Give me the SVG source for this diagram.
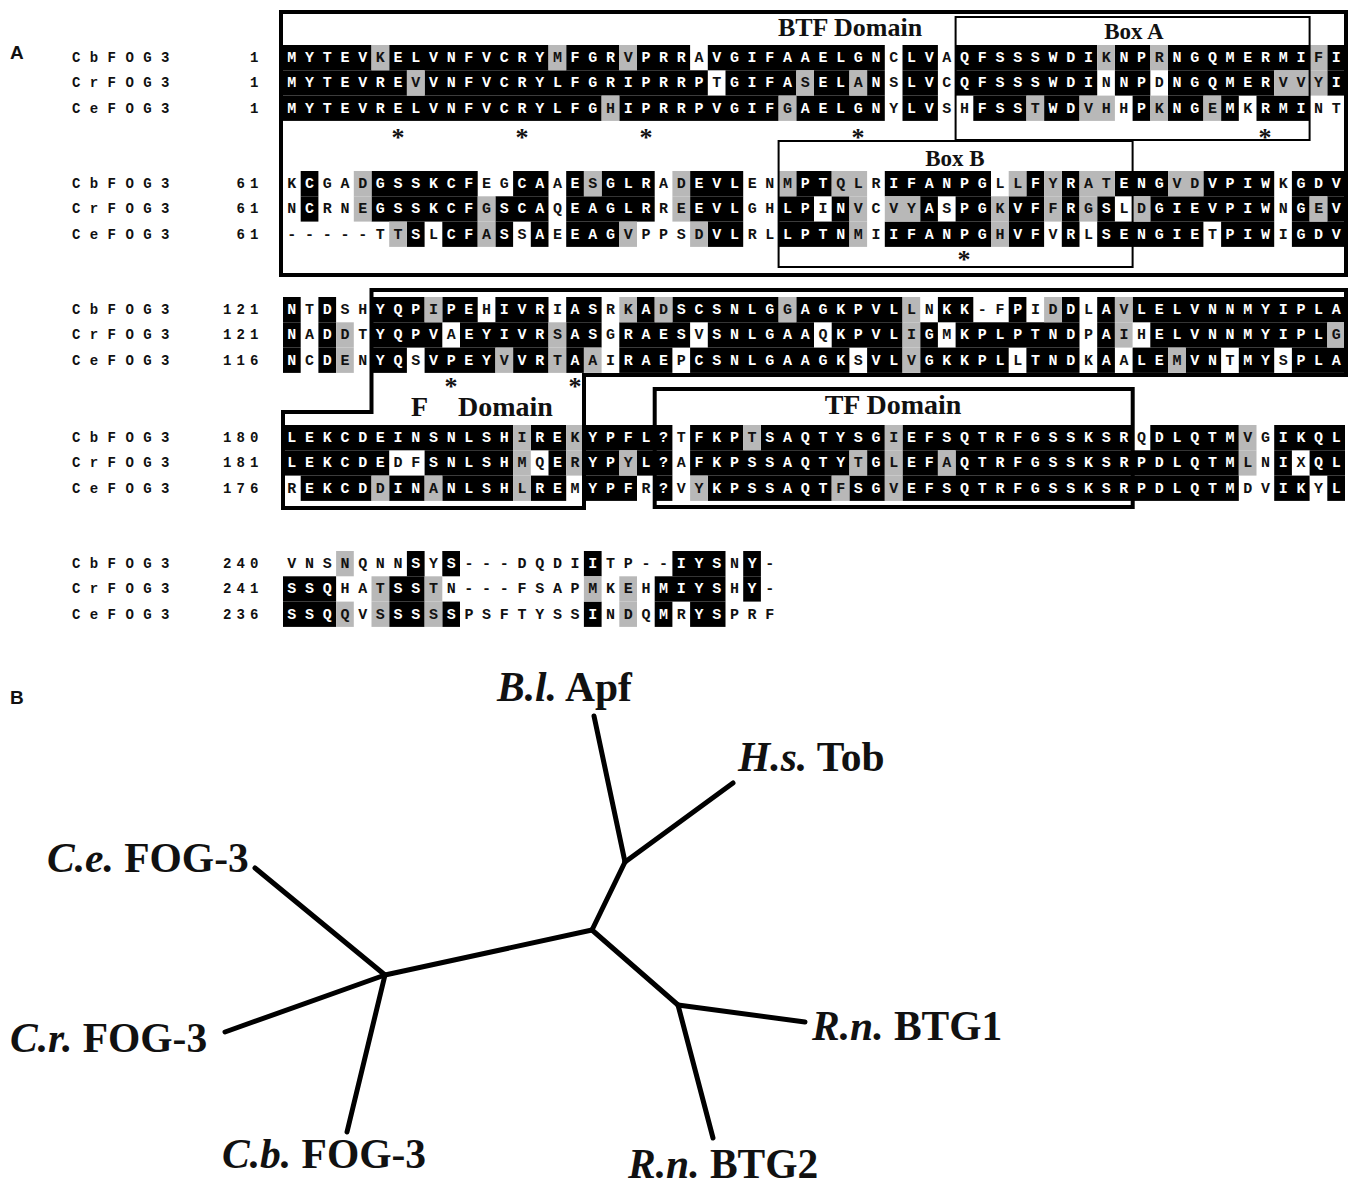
<svg xmlns="http://www.w3.org/2000/svg" width="1357" height="1188" viewBox="0 0 1357 1188">
<style>
.b{fill:#000}
.g{fill:#b8b8b8}
.seq{font-family:"Liberation Mono",monospace;font-weight:bold;font-size:15px;letter-spacing:8.7px}
.w{fill:#fff}
.k{fill:#111}
.nm{font-family:"Liberation Mono",monospace;font-weight:bold;font-size:14px;letter-spacing:9.4px;fill:#111}
.num{font-family:"Liberation Mono",monospace;font-weight:bold;font-size:14px;letter-spacing:5.1px;fill:#111}
.ast{font-family:"Liberation Serif",serif;font-weight:bold;font-size:26px;text-anchor:middle;fill:#111}
.dom{font-family:"Liberation Serif",serif;font-weight:bold;font-size:26px;fill:#111}
.dom2{font-family:"Liberation Serif",serif;font-weight:bold;font-size:28px;fill:#111}
.box{font-family:"Liberation Serif",serif;font-weight:bold;font-size:23px;fill:#111}
.thick{fill:none;stroke:#000;stroke-width:4}
.thin{fill:none;stroke:#000;stroke-width:2}
.pl{font-family:"Liberation Sans",sans-serif;font-weight:bold;font-size:19px;fill:#111}
.lab{font-family:"Liberation Serif",serif;font-weight:bold;font-size:41.5px;fill:#111}
.it{font-style:italic}
.edge{stroke:#000;stroke-width:5;stroke-linecap:round;fill:none}
</style>
<rect width="1357" height="1188" fill="#fff"/>
<text class="pl" x="10" y="59">A</text>
<text class="pl" x="10" y="704">B</text>

<!-- Block 1 -->
<g id="block1">
<g transform="translate(283,45) scale(17.7,1)">
<g class="b">
<rect x="0" y="0" width="5" height="25.3"/><rect x="6" y="0" width="9" height="25.3"/><rect x="16" y="0" width="3" height="25.3"/><rect x="20" y="0" width="3" height="25.3"/><rect x="24" y="0" width="10" height="25.3"/><rect x="35" y="0" width="2" height="25.3"/><rect x="38" y="0" width="8" height="25.3"/><rect x="47" y="0" width="2" height="25.3"/><rect x="50" y="0" width="8" height="25.3"/><rect x="59" y="0" width="1" height="25.3"/>
<rect x="0" y="25.3" width="7" height="25.3"/><rect x="8" y="25.3" width="16" height="25.3"/><rect x="25" y="25.3" width="4" height="25.3"/><rect x="30" y="25.3" width="2" height="25.3"/><rect x="33" y="25.3" width="1" height="25.3"/><rect x="35" y="25.3" width="2" height="25.3"/><rect x="38" y="25.3" width="8" height="25.3"/><rect x="47" y="25.3" width="2" height="25.3"/><rect x="50" y="25.3" width="6" height="25.3"/><rect x="59" y="25.3" width="1" height="25.3"/>
<rect x="0" y="50.6" width="18" height="25.3"/><rect x="19" y="50.6" width="9" height="25.3"/><rect x="29" y="50.6" width="5" height="25.3"/><rect x="35" y="50.6" width="2" height="25.3"/><rect x="39" y="50.6" width="3" height="25.3"/><rect x="43" y="50.6" width="2" height="25.3"/><rect x="48" y="50.6" width="1" height="25.3"/><rect x="50" y="50.6" width="2" height="25.3"/><rect x="53" y="50.6" width="1" height="25.3"/><rect x="55" y="50.6" width="3" height="25.3"/>
</g>
<g class="g">
<rect x="5" y="0" width="1" height="25.3"/><rect x="15" y="0" width="1" height="25.3"/><rect x="19" y="0" width="1" height="25.3"/><rect x="46" y="0" width="1" height="25.3"/><rect x="49" y="0" width="1" height="25.3"/><rect x="58" y="0" width="1" height="25.3"/>
<rect x="7" y="25.3" width="1" height="25.3"/><rect x="29" y="25.3" width="1" height="25.3"/><rect x="32" y="25.3" width="1" height="25.3"/><rect x="56" y="25.3" width="3" height="25.3"/>
<rect x="18" y="50.6" width="1" height="25.3"/><rect x="28" y="50.6" width="1" height="25.3"/><rect x="42" y="50.6" width="1" height="25.3"/><rect x="45" y="50.6" width="2" height="25.3"/><rect x="49" y="50.6" width="1" height="25.3"/><rect x="52" y="50.6" width="1" height="25.3"/>
</g>
</g>
<text class="nm" x="72" y="62">CbFOG3</text><text class="nm" x="72" y="87.3">CrFOG3</text><text class="nm" x="72" y="112.6">CeFOG3</text>
<text class="num" x="250" y="62">1</text><text class="num" x="250" y="87.3">1</text><text class="num" x="250" y="112.6">1</text>
<text class="seq" x="287.35" y="62"><tspan class="w">MYTEV</tspan><tspan class="k">K</tspan><tspan class="w">ELVNFVCRY</tspan><tspan class="k">M</tspan><tspan class="w">FGR</tspan><tspan class="k">V</tspan><tspan class="w">PRR</tspan><tspan class="k">A</tspan><tspan class="w">VGIFAAELGN</tspan><tspan class="k">C</tspan><tspan class="w">LV</tspan><tspan class="k">A</tspan><tspan class="w">QFSSSWDI</tspan><tspan class="k">K</tspan><tspan class="w">NP</tspan><tspan class="k">R</tspan><tspan class="w">NGQMERMI</tspan><tspan class="k">F</tspan><tspan class="w">I</tspan></text>
<text class="seq" x="287.35" y="87.3"><tspan class="w">MYTEVRE</tspan><tspan class="k">V</tspan><tspan class="w">VNFVCRYLFGRIPRRP</tspan><tspan class="k">T</tspan><tspan class="w">GIFA</tspan><tspan class="k">S</tspan><tspan class="w">EL</tspan><tspan class="k">A</tspan><tspan class="w">N</tspan><tspan class="k">S</tspan><tspan class="w">LV</tspan><tspan class="k">C</tspan><tspan class="w">QFSSSWDI</tspan><tspan class="k">N</tspan><tspan class="w">NP</tspan><tspan class="k">D</tspan><tspan class="w">NGQMER</tspan><tspan class="k">VVY</tspan><tspan class="w">I</tspan></text>
<text class="seq" x="287.35" y="112.6"><tspan class="w">MYTEVRELVNFVCRYLFG</tspan><tspan class="k">H</tspan><tspan class="w">IPRRPVGIF</tspan><tspan class="k">G</tspan><tspan class="w">AELGN</tspan><tspan class="k">Y</tspan><tspan class="w">LV</tspan><tspan class="k">SH</tspan><tspan class="w">FSS</tspan><tspan class="k">T</tspan><tspan class="w">WD</tspan><tspan class="k">VHH</tspan><tspan class="w">P</tspan><tspan class="k">K</tspan><tspan class="w">NG</tspan><tspan class="k">E</tspan><tspan class="w">M</tspan><tspan class="k">K</tspan><tspan class="w">RMI</tspan><tspan class="k">NT</tspan></text>
<text class="ast" x="398" y="146">*</text><text class="ast" x="522" y="146">*</text><text class="ast" x="646" y="146">*</text><text class="ast" x="858" y="146">*</text><text class="ast" x="1265" y="146">*</text>
</g>

<!-- Block 2 -->
<g id="block2">
<g transform="translate(283,171) scale(17.7,1)">
<g class="b">
<rect x="1" y="0" width="1" height="25.3"/><rect x="5" y="0" width="6" height="25.3"/><rect x="13" y="0" width="2" height="25.3"/><rect x="16" y="0" width="1" height="25.3"/><rect x="18" y="0" width="3" height="25.3"/><rect x="23" y="0" width="3" height="25.3"/><rect x="29" y="0" width="2" height="25.3"/><rect x="34" y="0" width="6" height="25.3"/><rect x="42" y="0" width="1" height="25.3"/><rect x="44" y="0" width="1" height="25.3"/><rect x="47" y="0" width="3" height="25.3"/><rect x="52" y="0" width="4" height="25.3"/><rect x="57" y="0" width="3" height="25.3"/>
<rect x="1" y="25.3" width="1" height="25.3"/><rect x="5" y="25.3" width="6" height="25.3"/><rect x="12" y="25.3" width="3" height="25.3"/><rect x="16" y="25.3" width="5" height="25.3"/><rect x="23" y="25.3" width="3" height="25.3"/><rect x="28" y="25.3" width="2" height="25.3"/><rect x="31" y="25.3" width="1" height="25.3"/><rect x="36" y="25.3" width="1" height="25.3"/><rect x="38" y="25.3" width="2" height="25.3"/><rect x="41" y="25.3" width="2" height="25.3"/><rect x="44" y="25.3" width="1" height="25.3"/><rect x="46" y="25.3" width="1" height="25.3"/><rect x="49" y="25.3" width="7" height="25.3"/><rect x="57" y="25.3" width="1" height="25.3"/><rect x="59" y="25.3" width="1" height="25.3"/>
<rect x="7" y="50.6" width="1" height="25.3"/><rect x="9" y="50.6" width="2" height="25.3"/><rect x="12" y="50.6" width="1" height="25.3"/><rect x="14" y="50.6" width="1" height="25.3"/><rect x="16" y="50.6" width="3" height="25.3"/><rect x="24" y="50.6" width="2" height="25.3"/><rect x="28" y="50.6" width="4" height="25.3"/><rect x="34" y="50.6" width="6" height="25.3"/><rect x="41" y="50.6" width="2" height="25.3"/><rect x="44" y="50.6" width="1" height="25.3"/><rect x="46" y="50.6" width="6" height="25.3"/><rect x="53" y="50.6" width="3" height="25.3"/><rect x="57" y="50.6" width="3" height="25.3"/>
</g>
<g class="g">
<rect x="4" y="0" width="1" height="25.3"/><rect x="17" y="0" width="1" height="25.3"/><rect x="22" y="0" width="1" height="25.3"/><rect x="28" y="0" width="1" height="25.3"/><rect x="31" y="0" width="2" height="25.3"/><rect x="41" y="0" width="1" height="25.3"/><rect x="43" y="0" width="1" height="25.3"/><rect x="45" y="0" width="2" height="25.3"/><rect x="50" y="0" width="2" height="25.3"/>
<rect x="4" y="25.3" width="1" height="25.3"/><rect x="11" y="25.3" width="1" height="25.3"/><rect x="22" y="25.3" width="1" height="25.3"/><rect x="32" y="25.3" width="1" height="25.3"/><rect x="34" y="25.3" width="2" height="25.3"/><rect x="40" y="25.3" width="1" height="25.3"/><rect x="43" y="25.3" width="1" height="25.3"/><rect x="45" y="25.3" width="1" height="25.3"/><rect x="48" y="25.3" width="1" height="25.3"/><rect x="58" y="25.3" width="1" height="25.3"/>
<rect x="6" y="50.6" width="1" height="25.3"/><rect x="11" y="50.6" width="1" height="25.3"/><rect x="19" y="50.6" width="1" height="25.3"/><rect x="23" y="50.6" width="1" height="25.3"/><rect x="32" y="50.6" width="1" height="25.3"/><rect x="40" y="50.6" width="1" height="25.3"/>
</g>
</g>
<text class="nm" x="72" y="188">CbFOG3</text><text class="nm" x="72" y="213.3">CrFOG3</text><text class="nm" x="72" y="238.6">CeFOG3</text>
<text class="num" x="236.5" y="188">61</text><text class="num" x="236.5" y="213.3">61</text><text class="num" x="236.5" y="238.6">61</text>
<text class="seq" x="287.35" y="188"><tspan class="k">K</tspan><tspan class="w">C</tspan><tspan class="k">GAD</tspan><tspan class="w">GSSKCF</tspan><tspan class="k">EG</tspan><tspan class="w">CA</tspan><tspan class="k">A</tspan><tspan class="w">E</tspan><tspan class="k">S</tspan><tspan class="w">GLR</tspan><tspan class="k">AD</tspan><tspan class="w">EVL</tspan><tspan class="k">ENM</tspan><tspan class="w">PT</tspan><tspan class="k">QLR</tspan><tspan class="w">IFANPG</tspan><tspan class="k">LL</tspan><tspan class="w">F</tspan><tspan class="k">Y</tspan><tspan class="w">R</tspan><tspan class="k">AT</tspan><tspan class="w">ENG</tspan><tspan class="k">VD</tspan><tspan class="w">VPIW</tspan><tspan class="k">K</tspan><tspan class="w">GDV</tspan></text>
<text class="seq" x="287.35" y="213.3"><tspan class="k">N</tspan><tspan class="w">C</tspan><tspan class="k">RNE</tspan><tspan class="w">GSSKCF</tspan><tspan class="k">G</tspan><tspan class="w">SCA</tspan><tspan class="k">Q</tspan><tspan class="w">EAGLR</tspan><tspan class="k">RE</tspan><tspan class="w">EVL</tspan><tspan class="k">GH</tspan><tspan class="w">LP</tspan><tspan class="k">I</tspan><tspan class="w">N</tspan><tspan class="k">VCVY</tspan><tspan class="w">A</tspan><tspan class="k">S</tspan><tspan class="w">PG</tspan><tspan class="k">K</tspan><tspan class="w">VF</tspan><tspan class="k">F</tspan><tspan class="w">R</tspan><tspan class="k">G</tspan><tspan class="w">S</tspan><tspan class="k">LD</tspan><tspan class="w">GIEVPIW</tspan><tspan class="k">N</tspan><tspan class="w">G</tspan><tspan class="k">E</tspan><tspan class="w">V</tspan></text>
<text class="seq" x="287.35" y="238.6"><tspan class="k">-----TT</tspan><tspan class="w">S</tspan><tspan class="k">L</tspan><tspan class="w">CF</tspan><tspan class="k">A</tspan><tspan class="w">S</tspan><tspan class="k">S</tspan><tspan class="w">A</tspan><tspan class="k">E</tspan><tspan class="w">EAG</tspan><tspan class="k">VPPSD</tspan><tspan class="w">VL</tspan><tspan class="k">RL</tspan><tspan class="w">LPTN</tspan><tspan class="k">MI</tspan><tspan class="w">IFANPG</tspan><tspan class="k">H</tspan><tspan class="w">VF</tspan><tspan class="k">V</tspan><tspan class="w">R</tspan><tspan class="k">L</tspan><tspan class="w">SENGIE</tspan><tspan class="k">T</tspan><tspan class="w">PIW</tspan><tspan class="k">I</tspan><tspan class="w">GDV</tspan></text>
<text class="ast" x="964" y="268">*</text>
</g>

<!-- Block 3 -->
<g id="block3">
<g transform="translate(283,297) scale(17.7,1)">
<g class="b">
<rect x="0" y="0" width="1" height="25.3"/><rect x="2" y="0" width="1" height="25.3"/><rect x="5" y="0" width="3" height="25.3"/><rect x="9" y="0" width="2" height="25.3"/><rect x="12" y="0" width="3" height="25.3"/><rect x="16" y="0" width="2" height="25.3"/><rect x="20" y="0" width="1" height="25.3"/><rect x="22" y="0" width="6" height="25.3"/><rect x="29" y="0" width="6" height="25.3"/><rect x="37" y="0" width="2" height="25.3"/><rect x="41" y="0" width="1" height="25.3"/><rect x="44" y="0" width="1" height="25.3"/><rect x="46" y="0" width="1" height="25.3"/><rect x="48" y="0" width="12" height="25.3"/>
<rect x="0" y="25.3" width="1" height="25.3"/><rect x="2" y="25.3" width="1" height="25.3"/><rect x="5" y="25.3" width="4" height="25.3"/><rect x="10" y="25.3" width="5" height="25.3"/><rect x="16" y="25.3" width="2" height="25.3"/><rect x="19" y="25.3" width="4" height="25.3"/><rect x="24" y="25.3" width="6" height="25.3"/><rect x="31" y="25.3" width="4" height="25.3"/><rect x="36" y="25.3" width="1" height="25.3"/><rect x="38" y="25.3" width="7" height="25.3"/><rect x="46" y="25.3" width="1" height="25.3"/><rect x="49" y="25.3" width="10" height="25.3"/>
<rect x="0" y="50.6" width="1" height="25.3"/><rect x="2" y="50.6" width="1" height="25.3"/><rect x="5" y="50.6" width="2" height="25.3"/><rect x="8" y="50.6" width="4" height="25.3"/><rect x="13" y="50.6" width="2" height="25.3"/><rect x="16" y="50.6" width="1" height="25.3"/><rect x="19" y="50.6" width="3" height="25.3"/><rect x="23" y="50.6" width="9" height="25.3"/><rect x="33" y="50.6" width="2" height="25.3"/><rect x="36" y="50.6" width="5" height="25.3"/><rect x="42" y="50.6" width="3" height="25.3"/><rect x="46" y="50.6" width="1" height="25.3"/><rect x="48" y="50.6" width="2" height="25.3"/><rect x="51" y="50.6" width="2" height="25.3"/><rect x="54" y="50.6" width="2" height="25.3"/><rect x="57" y="50.6" width="3" height="25.3"/>
</g>
<g class="g">
<rect x="8" y="0" width="1" height="25.3"/><rect x="19" y="0" width="1" height="25.3"/><rect x="21" y="0" width="1" height="25.3"/><rect x="28" y="0" width="1" height="25.3"/><rect x="35" y="0" width="1" height="25.3"/><rect x="43" y="0" width="1" height="25.3"/><rect x="47" y="0" width="1" height="25.3"/>
<rect x="3" y="25.3" width="1" height="25.3"/><rect x="15" y="25.3" width="1" height="25.3"/><rect x="35" y="25.3" width="1" height="25.3"/><rect x="47" y="25.3" width="1" height="25.3"/><rect x="59" y="25.3" width="1" height="25.3"/>
<rect x="3" y="50.6" width="1" height="25.3"/><rect x="12" y="50.6" width="1" height="25.3"/><rect x="15" y="50.6" width="1" height="25.3"/><rect x="17" y="50.6" width="1" height="25.3"/><rect x="35" y="50.6" width="1" height="25.3"/><rect x="50" y="50.6" width="1" height="25.3"/>
</g>
</g>
<text class="nm" x="72" y="314">CbFOG3</text><text class="nm" x="72" y="339.3">CrFOG3</text><text class="nm" x="72" y="364.6">CeFOG3</text>
<text class="num" x="223" y="314">121</text><text class="num" x="223" y="339.3">121</text><text class="num" x="223" y="364.6">116</text>
<text class="seq" x="287.35" y="314"><tspan class="w">N</tspan><tspan class="k">T</tspan><tspan class="w">D</tspan><tspan class="k">SH</tspan><tspan class="w">YQP</tspan><tspan class="k">I</tspan><tspan class="w">PE</tspan><tspan class="k">H</tspan><tspan class="w">IVR</tspan><tspan class="k">I</tspan><tspan class="w">AS</tspan><tspan class="k">RK</tspan><tspan class="w">A</tspan><tspan class="k">D</tspan><tspan class="w">SCSNLG</tspan><tspan class="k">G</tspan><tspan class="w">AGKPVL</tspan><tspan class="k">LN</tspan><tspan class="w">KK</tspan><tspan class="k">-F</tspan><tspan class="w">P</tspan><tspan class="k">ID</tspan><tspan class="w">D</tspan><tspan class="k">L</tspan><tspan class="w">A</tspan><tspan class="k">V</tspan><tspan class="w">LELVNNMYIPLA</tspan></text>
<text class="seq" x="287.35" y="339.3"><tspan class="w">N</tspan><tspan class="k">A</tspan><tspan class="w">D</tspan><tspan class="k">DT</tspan><tspan class="w">YQPV</tspan><tspan class="k">A</tspan><tspan class="w">EYIVR</tspan><tspan class="k">S</tspan><tspan class="w">AS</tspan><tspan class="k">G</tspan><tspan class="w">RAES</tspan><tspan class="k">V</tspan><tspan class="w">SNLGAA</tspan><tspan class="k">Q</tspan><tspan class="w">KPVL</tspan><tspan class="k">I</tspan><tspan class="w">G</tspan><tspan class="k">M</tspan><tspan class="w">KPLPTND</tspan><tspan class="k">P</tspan><tspan class="w">A</tspan><tspan class="k">IH</tspan><tspan class="w">ELVNNMYIPL</tspan><tspan class="k">G</tspan></text>
<text class="seq" x="287.35" y="364.6"><tspan class="w">N</tspan><tspan class="k">C</tspan><tspan class="w">D</tspan><tspan class="k">EN</tspan><tspan class="w">YQ</tspan><tspan class="k">S</tspan><tspan class="w">VPEY</tspan><tspan class="k">V</tspan><tspan class="w">VR</tspan><tspan class="k">T</tspan><tspan class="w">A</tspan><tspan class="k">AI</tspan><tspan class="w">RAE</tspan><tspan class="k">P</tspan><tspan class="w">CSNLGAAGK</tspan><tspan class="k">S</tspan><tspan class="w">VL</tspan><tspan class="k">V</tspan><tspan class="w">GKKPL</tspan><tspan class="k">L</tspan><tspan class="w">TND</tspan><tspan class="k">K</tspan><tspan class="w">A</tspan><tspan class="k">A</tspan><tspan class="w">LE</tspan><tspan class="k">M</tspan><tspan class="w">VN</tspan><tspan class="k">T</tspan><tspan class="w">MY</tspan><tspan class="k">S</tspan><tspan class="w">PLA</tspan></text>
<text class="ast" x="451" y="395">*</text><text class="ast" x="575" y="395">*</text>
</g>

<!-- Block 4 -->
<g id="block4">
<g transform="translate(283,425) scale(17.7,1)">
<g class="b">
<rect x="0" y="0" width="13" height="25.3"/><rect x="14" y="0" width="2" height="25.3"/><rect x="17" y="0" width="5" height="25.3"/><rect x="23" y="0" width="3" height="25.3"/><rect x="27" y="0" width="7" height="25.3"/><rect x="35" y="0" width="13" height="25.3"/><rect x="49" y="0" width="5" height="25.3"/><rect x="56" y="0" width="4" height="25.3"/>
<rect x="0" y="25.3" width="6" height="25.3"/><rect x="8" y="25.3" width="5" height="25.3"/><rect x="15" y="25.3" width="1" height="25.3"/><rect x="17" y="25.3" width="2" height="25.3"/><rect x="20" y="25.3" width="2" height="25.3"/><rect x="23" y="25.3" width="9" height="25.3"/><rect x="33" y="25.3" width="1" height="25.3"/><rect x="35" y="25.3" width="2" height="25.3"/><rect x="38" y="25.3" width="16" height="25.3"/><rect x="56" y="25.3" width="1" height="25.3"/><rect x="58" y="25.3" width="2" height="25.3"/>
<rect x="1" y="50.6" width="4" height="25.3"/><rect x="6" y="50.6" width="2" height="25.3"/><rect x="9" y="50.6" width="4" height="25.3"/><rect x="14" y="50.6" width="2" height="25.3"/><rect x="17" y="50.6" width="3" height="25.3"/><rect x="21" y="50.6" width="1" height="25.3"/><rect x="24" y="50.6" width="7" height="25.3"/><rect x="32" y="50.6" width="2" height="25.3"/><rect x="35" y="50.6" width="19" height="25.3"/><rect x="56" y="50.6" width="2" height="25.3"/><rect x="59" y="50.6" width="1" height="25.3"/>
</g>
<g class="g">
<rect x="13" y="0" width="1" height="25.3"/><rect x="16" y="0" width="1" height="25.3"/><rect x="26" y="0" width="1" height="25.3"/><rect x="34" y="0" width="1" height="25.3"/><rect x="54" y="0" width="1" height="25.3"/>
<rect x="13" y="25.3" width="1" height="25.3"/><rect x="16" y="25.3" width="1" height="25.3"/><rect x="19" y="25.3" width="1" height="25.3"/><rect x="32" y="25.3" width="1" height="25.3"/><rect x="34" y="25.3" width="1" height="25.3"/><rect x="37" y="25.3" width="1" height="25.3"/><rect x="54" y="25.3" width="1" height="25.3"/>
<rect x="5" y="50.6" width="1" height="25.3"/><rect x="8" y="50.6" width="1" height="25.3"/><rect x="13" y="50.6" width="1" height="25.3"/><rect x="23" y="50.6" width="1" height="25.3"/><rect x="31" y="50.6" width="1" height="25.3"/><rect x="34" y="50.6" width="1" height="25.3"/>
</g>
</g>
<text class="nm" x="72" y="442">CbFOG3</text><text class="nm" x="72" y="467.3">CrFOG3</text><text class="nm" x="72" y="492.6">CeFOG3</text>
<text class="num" x="223" y="442">180</text><text class="num" x="223" y="467.3">181</text><text class="num" x="223" y="492.6">176</text>
<text class="seq" x="287.35" y="442"><tspan class="w">LEKCDEINSNLSH</tspan><tspan class="k">I</tspan><tspan class="w">RE</tspan><tspan class="k">K</tspan><tspan class="w">YPFL?</tspan><tspan class="k">T</tspan><tspan class="w">FKP</tspan><tspan class="k">T</tspan><tspan class="w">SAQTYSG</tspan><tspan class="k">I</tspan><tspan class="w">EFSQTRFGSSKSR</tspan><tspan class="k">Q</tspan><tspan class="w">DLQTM</tspan><tspan class="k">VG</tspan><tspan class="w">IKQL</tspan></text>
<text class="seq" x="287.35" y="467.3"><tspan class="w">LEKCDE</tspan><tspan class="k">DF</tspan><tspan class="w">SNLSH</tspan><tspan class="k">MQ</tspan><tspan class="w">E</tspan><tspan class="k">R</tspan><tspan class="w">YP</tspan><tspan class="k">Y</tspan><tspan class="w">L?</tspan><tspan class="k">A</tspan><tspan class="w">FKPSSAQTY</tspan><tspan class="k">T</tspan><tspan class="w">G</tspan><tspan class="k">L</tspan><tspan class="w">EF</tspan><tspan class="k">A</tspan><tspan class="w">QTRFGSSKSRPDLQTM</tspan><tspan class="k">LN</tspan><tspan class="w">I</tspan><tspan class="k">X</tspan><tspan class="w">QL</tspan></text>
<text class="seq" x="287.35" y="492.6"><tspan class="k">R</tspan><tspan class="w">EKCD</tspan><tspan class="k">D</tspan><tspan class="w">IN</tspan><tspan class="k">A</tspan><tspan class="w">NLSH</tspan><tspan class="k">L</tspan><tspan class="w">RE</tspan><tspan class="k">M</tspan><tspan class="w">YPF</tspan><tspan class="k">R</tspan><tspan class="w">?</tspan><tspan class="k">VY</tspan><tspan class="w">KPSSAQT</tspan><tspan class="k">F</tspan><tspan class="w">SG</tspan><tspan class="k">V</tspan><tspan class="w">EFSQTRFGSSKSRPDLQTM</tspan><tspan class="k">DV</tspan><tspan class="w">IK</tspan><tspan class="k">Y</tspan><tspan class="w">L</tspan></text>
</g>

<!-- Block 5 -->
<g id="block5">
<g transform="translate(283,551) scale(17.7,1)">
<g class="b">
<rect x="7" y="0" width="1" height="25.3"/><rect x="9" y="0" width="1" height="25.3"/><rect x="17" y="0" width="1" height="25.3"/><rect x="22" y="0" width="3" height="25.3"/><rect x="26" y="0" width="1" height="25.3"/>
<rect x="0" y="25.3" width="3" height="25.3"/><rect x="6" y="25.3" width="2" height="25.3"/><rect x="21" y="25.3" width="4" height="25.3"/><rect x="26" y="25.3" width="1" height="25.3"/>
<rect x="0" y="50.6" width="3" height="25.3"/><rect x="6" y="50.6" width="2" height="25.3"/><rect x="9" y="50.6" width="1" height="25.3"/><rect x="17" y="50.6" width="1" height="25.3"/><rect x="21" y="50.6" width="1" height="25.3"/><rect x="23" y="50.6" width="2" height="25.3"/>
</g>
<g class="g">
<rect x="3" y="0" width="1" height="25.3"/>
<rect x="5" y="25.3" width="1" height="25.3"/><rect x="8" y="25.3" width="1" height="25.3"/><rect x="17" y="25.3" width="1" height="25.3"/><rect x="19" y="25.3" width="1" height="25.3"/>
<rect x="3" y="50.6" width="1" height="25.3"/><rect x="5" y="50.6" width="1" height="25.3"/><rect x="8" y="50.6" width="1" height="25.3"/><rect x="19" y="50.6" width="1" height="25.3"/>
</g>
</g>
<text class="nm" x="72" y="568">CbFOG3</text><text class="nm" x="72" y="593.3">CrFOG3</text><text class="nm" x="72" y="618.6">CeFOG3</text>
<text class="num" x="223" y="568">240</text><text class="num" x="223" y="593.3">241</text><text class="num" x="223" y="618.6">236</text>
<text class="seq" x="287.35" y="568"><tspan class="k">VNSNQNN</tspan><tspan class="w">S</tspan><tspan class="k">Y</tspan><tspan class="w">S</tspan><tspan class="k">---DQDI</tspan><tspan class="w">I</tspan><tspan class="k">TP--</tspan><tspan class="w">IYS</tspan><tspan class="k">N</tspan><tspan class="w">Y</tspan><tspan class="k">-</tspan></text>
<text class="seq" x="287.35" y="593.3"><tspan class="w">SSQ</tspan><tspan class="k">HAT</tspan><tspan class="w">SS</tspan><tspan class="k">TN---FSAPMKEH</tspan><tspan class="w">MIYS</tspan><tspan class="k">H</tspan><tspan class="w">Y</tspan><tspan class="k">-</tspan></text>
<text class="seq" x="287.35" y="618.6"><tspan class="w">SSQ</tspan><tspan class="k">QVS</tspan><tspan class="w">SS</tspan><tspan class="k">S</tspan><tspan class="w">S</tspan><tspan class="k">PSFTYSS</tspan><tspan class="w">I</tspan><tspan class="k">NDQ</tspan><tspan class="w">M</tspan><tspan class="k">R</tspan><tspan class="w">YS</tspan><tspan class="k">PRF</tspan></text>
</g>

<!-- Domain boxes -->
<g id="domains">
<rect id="btf-box" class="thick" x="281" y="12" width="1065" height="263"/>
<text class="dom" x="850" y="36" text-anchor="middle">BTF Domain</text>
<rect id="boxA" class="thin" x="955.6" y="17" width="354" height="123"/>
<text class="box" x="1134" y="39" text-anchor="middle">Box A</text>
<rect id="boxB" class="thin" x="778.6" y="141" width="354" height="126"/>
<text class="box" x="955" y="166" text-anchor="middle">Box B</text>
<polygon id="f-box" class="thick" points="371.5,290 1346,290 1346,375 584,375 584,508 283,508 283,412 371.5,412"/>
<text class="dom2" x="411" y="416">F<tspan x="458">Domain</tspan></text>
<rect id="tf-box" class="thick" x="654.7" y="389" width="478" height="118"/>
<text class="dom2" x="893" y="414" text-anchor="middle">TF Domain</text>
</g>

<!-- Tree -->
<g id="connectors">
<line class="edge" x1="385" y1="975" x2="592" y2="930"/>
<line class="edge" x1="385" y1="975" x2="255" y2="868"/>
<line class="edge" x1="385" y1="975" x2="225" y2="1032"/>
<line class="edge" x1="385" y1="975" x2="347" y2="1132"/>
<line class="edge" x1="592" y1="930" x2="625" y2="862"/>
<line class="edge" x1="625" y1="862" x2="594" y2="716"/>
<line class="edge" x1="625" y1="862" x2="733" y2="783"/>
<line class="edge" x1="592" y1="930" x2="678" y2="1005"/>
<line class="edge" x1="678" y1="1005" x2="805" y2="1022"/>
<line class="edge" x1="678" y1="1005" x2="713" y2="1138"/>
</g>
<g id="node-bl-apf"><text class="lab" x="497" y="701"><tspan class="it">B.l.</tspan> Apf</text></g>
<g id="node-hs-tob"><text class="lab" x="738" y="771"><tspan class="it">H.s.</tspan> Tob</text></g>
<g id="node-ce-fog3"><text class="lab" x="47" y="872"><tspan class="it">C.e.</tspan> FOG-3</text></g>
<g id="node-cr-fog3"><text class="lab" x="10" y="1052"><tspan class="it">C.r.</tspan> FOG-3</text></g>
<g id="node-cb-fog3"><text class="lab" x="222" y="1168"><tspan class="it">C.b.</tspan> FOG-3</text></g>
<g id="node-rn-btg1"><text class="lab" x="812" y="1040"><tspan class="it">R.n.</tspan> BTG1</text></g>
<g id="node-rn-btg2"><text class="lab" x="628" y="1178"><tspan class="it">R.n.</tspan> BTG2</text></g>
</svg>
